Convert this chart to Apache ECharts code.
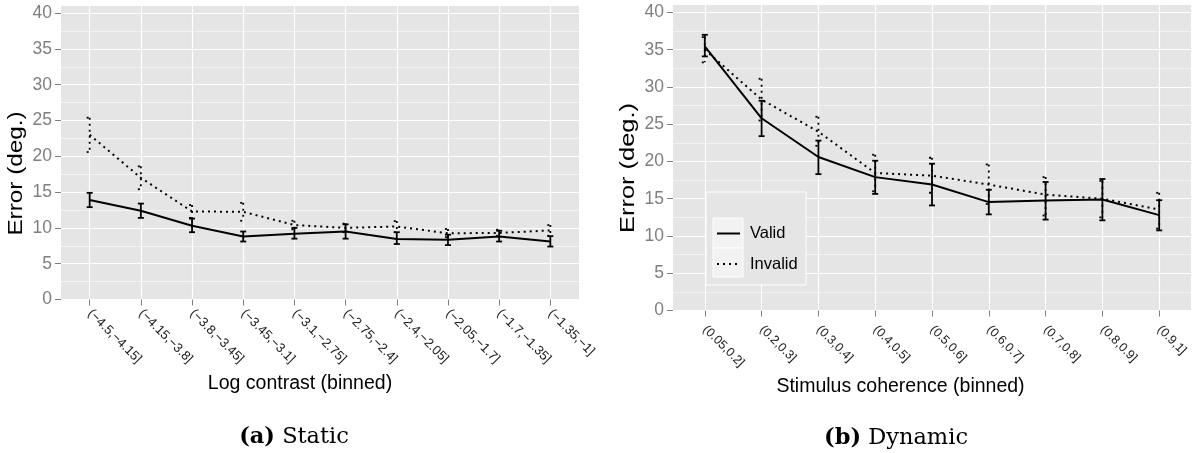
<!DOCTYPE html>
<html>
<head>
<meta charset="utf-8">
<script src="https://cdn.jsdelivr.net/npm/echarts@6/dist/echarts.min.js"></script>
<style>
html,body{margin:0;padding:0;background:#fff;}
#chart{width:1194px;height:453px;}
</style>
</head>
<body>
<div id="chart"></div>
<script>
// ---- data ----
const staticCategories = ['(\u22124.5,\u22124.15]','(\u22124.15,\u22123.8]','(\u22123.8,\u22123.45]','(\u22123.45,\u22123.1]','(\u22123.1,\u22122.75]','(\u22122.75,\u22122.4]','(\u22122.4,\u22122.05]','(\u22122.05,\u22121.7]','(\u22121.7,\u22121.35]','(\u22121.35,\u22121]'];
const staticValid      = [13.9, 12.4, 10.3, 8.8, 9.2, 9.5, 8.45, 8.35, 8.8, 8.1];
const staticValidLow   = [12.9, 11.4, 9.4, 8.1, 8.5, 8.5, 7.75, 7.6, 8.1, 7.4];
const staticValidHigh  = [14.9, 13.4, 11.3, 9.5, 10.0, 10.5, 9.4, 9.05, 9.6, 8.85];
const staticInvalid     = [23.0, 17.0, 12.3, 12.25, 10.4, 10.0, 10.2, 9.25, 9.3, 9.65];
const staticInvalidLow  = [20.6, 15.4, 11.4, 11.0, 9.8, 9.4, 9.4, 8.7, 8.9, 8.9];
const staticInvalidHigh = [25.4, 18.6, 13.2, 13.5, 11.0, 10.6, 10.95, 9.85, 9.75, 10.4];

const dynamicCategories = ['(0.05,0.2]','(0.2,0.3]','(0.3,0.4]','(0.4,0.5]','(0.5,0.6]','(0.6,0.7]','(0.7,0.8]','(0.8,0.9]','(0.9,1]'];
const dynamicValid      = [35.45, 25.8, 20.6, 17.9, 16.9, 14.55, 14.75, 14.9, 12.8];
const dynamicValidLow   = [34.1, 23.4, 18.3, 15.65, 14.1, 12.9, 12.2, 12.1, 10.75];
const dynamicValidHigh  = [37.0, 28.15, 22.8, 20.1, 19.7, 16.2, 17.25, 17.65, 14.8];
const dynamicInvalid     = [35.0, 28.3, 24.0, 18.45, 18.1, 16.9, 15.55, 15.0, 13.55];
const dynamicInvalidLow  = [33.3, 25.5, 22.1, 16.0, 15.8, 14.3, 12.75, 12.5, 11.0];
const dynamicInvalidHigh = [36.7, 31.1, 26.0, 20.9, 20.5, 19.6, 17.9, 17.4, 15.8];

const yMajorTicks = [0, 5, 10, 15, 20, 25, 30, 35, 40];
const yGridTicks = [0, 2.5, 5, 7.5, 10, 12.5, 15, 17.5, 20, 22.5, 25, 27.5, 30, 32.5, 35, 37.5, 40];
const seriesNames = ['Valid', 'Invalid'];
const axisTitles = { staticX: 'Log contrast (binned)', dynamicX: 'Stimulus coherence (binned)', y: 'Error (deg.)' };
const captions = [['(a)', 'Static'], ['(b)', 'Dynamic']];

// ---- helpers ----
const SANS = '"Liberation Sans", Arial, Helvetica, sans-serif';
const SERIF = '"DejaVu Serif", serif';
const DOT = [2, 4];
const pts = (vals) => vals.map((v, i) => [i, v]);
const bars = (lo, hi) => lo.map((v, i) => [i, v, hi[i]]);

function errRender(dotted) {
  return function (params, api) {
    const x = api.value(0), lo = api.value(1), hi = api.value(2);
    const a = api.coord([x, hi]), b = api.coord([x, lo]);
    const cap = 3;
    const style = { stroke: '#000', lineWidth: 1.8, lineDash: dotted ? DOT : null, fill: null };
    return {
      type: 'group',
      children: [
        { type: 'line', shape: { x1: a[0], y1: a[1], x2: b[0], y2: b[1] }, style: style },
        { type: 'line', shape: { x1: a[0] - cap, y1: a[1], x2: a[0] + cap, y2: a[1] }, style: style },
        { type: 'line', shape: { x1: b[0] - cap, y1: b[1], x2: b[0] + cap, y2: b[1] }, style: style }
      ]
    };
  };
}

function xAxisFor(gridIndex, cats, name, nameGap, nameShift, labelSize, labelMargin) {
  const idx = cats.map((c, i) => i);
  return {
    type: 'value', gridIndex: gridIndex,
    min: -0.56, max: cats.length - 1 + 0.56,
    name: name, nameLocation: 'middle', nameGap: nameGap,
    nameTextStyle: { fontFamily: SANS, fontSize: 19.5, color: '#000', padding: [0, 2 * nameShift, 0, 0] },
    axisLine: { show: false },
    axisTick: { show: true, length: 6, lineStyle: { color: '#7F7F7F', width: 1 }, customValues: idx },
    axisLabel: {
      customValues: idx, rotate: -45, margin: labelMargin,
      fontFamily: SANS, fontSize: labelSize, color: '#1a1a1a',
      formatter: (v) => cats[Math.round(v)]
    },
    splitLine: { show: true, lineStyle: { color: '#FFFFFF', width: 1.2 } }
  };
}

function yAxesFor(gridIndex) {
  return [
    { // grid lines (major + minor)
      type: 'value', gridIndex: gridIndex, min: 0, max: 41,
      axisLine: { show: false },
      axisTick: { show: false, customValues: yGridTicks },
      axisLabel: { show: false },
      splitLine: { show: true, lineStyle: { color: ['#FFFFFF', '#F2F2F2'], width: 1.2 } }
    },
    { // visible ticks and labels
      type: 'value', gridIndex: gridIndex, min: 0, max: 41, position: 'left',
      axisLine: { show: false },
      axisTick: { show: true, length: 6, lineStyle: { color: '#7F7F7F', width: 1 }, customValues: yMajorTicks },
      axisLabel: { customValues: yMajorTicks, margin: 9, fontFamily: SANS, fontSize: 17.5, color: '#7F7F7F' },
      splitLine: { show: false }
    }
  ];
}

function panelSeries(xi, yi, valid, vLo, vHi, invalid, iLo, iHi) {
  return [
    { name: seriesNames[1], type: 'line', xAxisIndex: xi, yAxisIndex: yi, data: pts(invalid),
      symbol: 'none', itemStyle: { color: '#000' },
      lineStyle: { color: '#000', width: 2, type: DOT, cap: 'butt' }, z: 2, silent: true },
    { name: 'err-invalid-' + xi, type: 'custom', xAxisIndex: xi, yAxisIndex: yi, data: bars(iLo, iHi),
      encode: { x: 0, y: [1, 2] }, renderItem: errRender(true), z: 3, silent: true },
    { name: seriesNames[0], type: 'line', xAxisIndex: xi, yAxisIndex: yi, data: pts(valid),
      symbol: 'none', itemStyle: { color: '#000' },
      lineStyle: { color: '#000', width: 2, type: 'solid' }, z: 4, silent: true },
    { name: 'err-valid-' + xi, type: 'custom', xAxisIndex: xi, yAxisIndex: yi, data: bars(vLo, vHi),
      encode: { x: 0, y: [1, 2] }, renderItem: errRender(false), z: 5, silent: true }
  ];
}

function yTitle(cx, cy, stretch) {
  return { type: 'text', z: 10, x: cx, y: cy, rotation: Math.PI / 2, scaleX: stretch,
    style: { text: axisTitles.y, fontFamily: SANS, fontSize: 20, fill: '#000', align: 'center', verticalAlign: 'middle' } };
}

function caption(cx, cy, c) {
  return { type: 'text', z: 10, x: cx, y: cy,
    style: { text: '{b|' + c[0] + '} ' + c[1], fontFamily: SERIF, fontSize: 22.5, fill: '#000',
      align: 'center', verticalAlign: 'middle',
      rich: { b: { fontFamily: SERIF, fontSize: 22.5, fontWeight: 'bold', fill: '#000' } } } };
}

const chart = echarts.init(document.getElementById('chart'), null, { renderer: 'canvas' });

const option = {
  animation: false,
  backgroundColor: '#FFFFFF',
  grid: [
    { left: 61, right: 1194 - 579, top: 6, bottom: 453 - 299.5, show: true, backgroundColor: '#E5E5E5', borderWidth: 0, containLabel: false, outerBoundsMode: 'none' },
    { left: 673, right: 3, top: 5, bottom: 453 - 310.5, show: true, backgroundColor: '#E5E5E5', borderWidth: 0, containLabel: false, outerBoundsMode: 'none' }
  ],
  xAxis: [
    xAxisFor(0, staticCategories, axisTitles.staticX, 74, 20, 13, 12),
    xAxisFor(1, dynamicCategories, axisTitles.dynamicX, 62, 31.5, 12.5, 17)
  ],
  yAxis: yAxesFor(0).concat(yAxesFor(1)),
  legend: {
    data: seriesNames,
    orient: 'vertical',
    left: 716, top: 225,
    itemWidth: 23, itemHeight: 16, itemGap: 13.5,
    padding: 0,
    itemStyle: { opacity: 0 },
    textStyle: { fontFamily: SANS, fontSize: 16.5, color: '#000', padding: [0, 0, 0, 5] },
    selectedMode: false,
    z: 10
  },
  graphic: [
    { type: 'rect', z: 8, shape: { x: 706, y: 192, width: 100, height: 93 }, style: { fill: '#E5E5E5', stroke: '#FFFFFF', lineWidth: 1 } },
    { type: 'rect', z: 9, shape: { x: 713, y: 218, width: 30, height: 30 }, style: { fill: '#F2F2F2', stroke: '#FFFFFF', lineWidth: 1 } },
    { type: 'rect', z: 9, shape: { x: 713, y: 248, width: 30, height: 29 }, style: { fill: '#F2F2F2', stroke: '#FFFFFF', lineWidth: 1 } },
    yTitle(16.5, 173.5, 1.215),
    yTitle(628, 168, 1.27),
    caption(294, 437, captions[0]),
    caption(896, 438, captions[1])
  ],
  series: [].concat(
    panelSeries(0, 0, staticValid, staticValidLow, staticValidHigh, staticInvalid, staticInvalidLow, staticInvalidHigh),
    panelSeries(1, 2, dynamicValid, dynamicValidLow, dynamicValidHigh, dynamicInvalid, dynamicInvalidLow, dynamicInvalidHigh)
  )
};
chart.setOption(option);
</script>
</body>
</html>
